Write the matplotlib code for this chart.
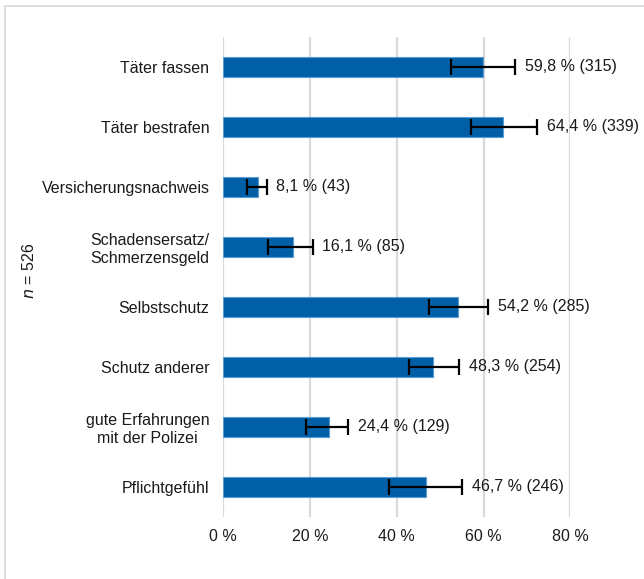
import matplotlib.pyplot as plt
from matplotlib.lines import Line2D

plt.rcParams['font.family'] = ['Liberation Sans', 'DejaVu Sans']

# Daten
kategorien = ["Täter fassen", "Täter bestrafen", "Versicherungsnachweis",
              "Schadensersatz/\nSchmerzensgeld", "Selbstschutz", "Schutz anderer",
              "gute Erfahrungen\nmit der Polizei", "Pflichtgefühl"]
anteil = [59.8, 64.4, 8.1, 16.1, 54.2, 48.3, 24.4, 46.7]
anzahl = [315, 339, 43, 85, 285, 254, 129, 246]
ci_unten = [52.6, 57.0, 5.5, 10.4, 47.4, 42.8, 19.1, 38.2]
ci_oben = [67.2, 72.4, 10.0, 20.6, 61.1, 54.3, 28.8, 55.0]
x_ticks = [0, 20, 40, 60, 80]

fig = plt.figure(figsize=(6.44, 5.79), dpi=100)
ax = fig.add_axes([0.3468, 0.1071, 0.5388, 0.829])

ypos = list(range(len(kategorien)))
err = [[a - u for a, u in zip(anteil, ci_unten)],
       [o - a for a, o in zip(anteil, ci_oben)]]
ax.barh(ypos, anteil, height=0.34, color="#005FA6", edgecolor="#5B9BD0",
        linewidth=0.8, zorder=2)
ax.errorbar(anteil, ypos, xerr=err, fmt="none", ecolor="black",
            elinewidth=1.6, capsize=6, capthick=1.6, zorder=3)

for y, a, n, o in zip(ypos, anteil, anzahl, ci_oben):
    lbl = f"{a:.1f}".replace(".", ",") + f" % ({n})"
    ax.annotate(lbl, xy=(o, y), xytext=(7, 0), textcoords="offset points",
                va="center", ha="left", fontsize=11.5, color="#1a1a1a")

ax.set_xlim(0, 80)
ax.set_ylim(len(kategorien) - 0.5, -0.5)
ax.set_xticks(x_ticks)
ax.set_xticklabels([f"{t} %" for t in x_ticks], fontsize=11.5, color="#1a1a1a")
ax.set_yticks(ypos)
ax.set_yticklabels(kategorien, fontsize=11.5, color="#1a1a1a",
                   ha="right", multialignment="center")
ax.tick_params(axis="y", length=0, pad=10)
ax.tick_params(axis="x", length=0, pad=9)
ax.xaxis.grid(True, color="#d9d9d9", linewidth=1.6, zorder=0)
ax.set_axisbelow(True)
for s in ax.spines.values():
    s.set_visible(False)

fig.text(0.045, 0.532, "$\\mathit{n}$ = 526", rotation=90, ha="center",
         va="center", fontsize=11.5, color="#1a1a1a")

# Rahmen oben und links
fig.add_artist(Line2D([5 / 644, 5 / 644], [0, 1 - 6 / 579], transform=fig.transFigure,
                      color="#d9d9d9", linewidth=1.2))
fig.add_artist(Line2D([5 / 644, 1], [1 - 6 / 579, 1 - 6 / 579], transform=fig.transFigure,
                      color="#d9d9d9", linewidth=1.2))

fig.savefig("out.png", dpi=100)
